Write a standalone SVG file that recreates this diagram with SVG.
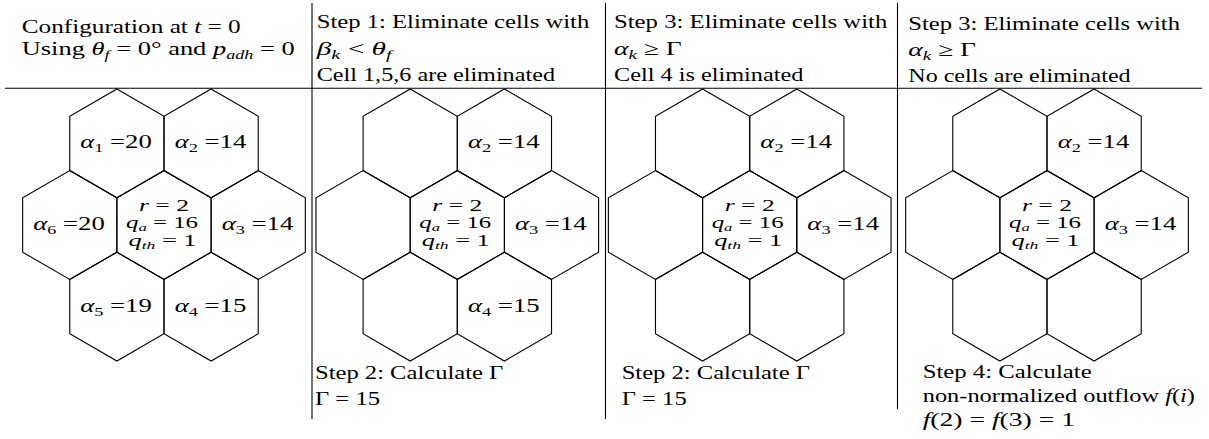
<svg xmlns="http://www.w3.org/2000/svg" width="1209" height="439" viewBox="0 0 1209 439" font-family="'Liberation Serif', serif">
<style>
.t{font-family:"Liberation Serif","DejaVu Serif",serif;font-size:19px;fill:#000}
.m{font-size:16.5px}
.i{font-style:italic}
.s{font-size:13px}
.ss{font-size:11px}
.hex{fill:none;stroke:#000;stroke-width:1.1}
.rule{stroke:#000;stroke-width:1.1;fill:none}
.c{text-anchor:middle}
</style>
<defs>
<polygon id="hex" class="hex" points="0,-54.4 47.11,-27.2 47.11,27.2 0,54.4 -47.11,27.2 -47.11,-27.2"/>
</defs>
<g id="rules">
<line class="rule" x1="5" y1="88.3" x2="1202" y2="88.3"/>
<line class="rule" x1="312" y1="3" x2="312" y2="419"/>
<line class="rule" x1="605.5" y1="3" x2="605.5" y2="419"/>
<line class="rule" x1="897.5" y1="3" x2="897.5" y2="409"/>
</g>
<g id="headers">
<text class="t" x="21.7" y="33" textLength="219" lengthAdjust="spacingAndGlyphs">Configuration at <tspan class="i">t</tspan> = 0</text>
<text class="t" x="21.7" y="54.5" textLength="273" lengthAdjust="spacingAndGlyphs">Using <tspan class="i">θ</tspan><tspan class="i s" dy="4">f</tspan><tspan dy="-4"> = 0° and </tspan><tspan class="i">p</tspan><tspan class="i s" dy="4">adh</tspan><tspan dy="-4"> = 0</tspan></text>
<text class="t" x="316.7" y="28" textLength="272.6" lengthAdjust="spacingAndGlyphs">Step 1: Eliminate cells with</text>
<text class="t" x="316.7" y="55" textLength="75" lengthAdjust="spacingAndGlyphs"><tspan class="i">β</tspan><tspan class="i s" dy="4">k</tspan><tspan dy="-4"> &lt; </tspan><tspan class="i">θ</tspan><tspan class="i s" dy="4">f</tspan></text>
<text class="t" x="316.7" y="81" textLength="238.3" lengthAdjust="spacingAndGlyphs">Cell 1,5,6 are eliminated</text>
<text class="t" x="614" y="28" textLength="273.3" lengthAdjust="spacingAndGlyphs">Step 3: Eliminate cells with</text>
<text class="t" x="614" y="55" textLength="67.7" lengthAdjust="spacingAndGlyphs"><tspan class="i">α</tspan><tspan class="i s" dy="4">k</tspan><tspan dy="-4"> ≥ Γ</tspan></text>
<text class="t" x="614" y="81" textLength="189.3" lengthAdjust="spacingAndGlyphs">Cell 4 is eliminated</text>
<text class="t" x="908.3" y="30" textLength="271.7" lengthAdjust="spacingAndGlyphs">Step 3: Eliminate cells with</text>
<text class="t" x="908.3" y="56" textLength="67.7" lengthAdjust="spacingAndGlyphs"><tspan class="i">α</tspan><tspan class="i s" dy="4">k</tspan><tspan dy="-4"> ≥ Γ</tspan></text>
<text class="t" x="908.3" y="81.5" textLength="222.3" lengthAdjust="spacingAndGlyphs">No cells are eliminated</text>
</g>
<g id="footers">
<text class="t" x="315" y="379" textLength="188.3" lengthAdjust="spacingAndGlyphs">Step 2: Calculate Γ</text>
<text class="t" x="315" y="405" textLength="65" lengthAdjust="spacingAndGlyphs">Γ = 15</text>
<text class="t" x="621.7" y="379" textLength="188.3" lengthAdjust="spacingAndGlyphs">Step 2: Calculate Γ</text>
<text class="t" x="621.7" y="405" textLength="65" lengthAdjust="spacingAndGlyphs">Γ = 15</text>
<text class="t" x="922.7" y="378" textLength="169" lengthAdjust="spacingAndGlyphs">Step 4: Calculate</text>
<text class="t" x="922.7" y="401.7" textLength="272.3" lengthAdjust="spacingAndGlyphs">non-normalized outflow <tspan class="i">f</tspan>(<tspan class="i">i</tspan>)</text>
<text class="t" x="922.7" y="425.7" textLength="152.3" lengthAdjust="spacingAndGlyphs"><tspan class="i">f</tspan>(2) = <tspan class="i">f</tspan>(3) = 1</text>
</g>
<!-- Panel 1 -->
<g id="p1-center"><use href="#hex" x="164" y="225"/>
<text class="t m c" x="164" y="210.5" textLength="50" lengthAdjust="spacingAndGlyphs"><tspan class="i">r</tspan> = 2</text>
<text class="t m c" x="162" y="228" textLength="72" lengthAdjust="spacingAndGlyphs"><tspan class="i">q</tspan><tspan class="i ss" dy="3">a</tspan><tspan dy="-3"> = 16</tspan></text>
<text class="t m c" x="162.5" y="245.5" textLength="68" lengthAdjust="spacingAndGlyphs"><tspan class="i">q</tspan><tspan class="i ss" dy="3">th</tspan><tspan dy="-3"> = 1</tspan></text></g>
<g id="p1-cell1"><use href="#hex" x="116.89" y="143.4"/><text class="t c" x="116" y="148.4" textLength="71.7" lengthAdjust="spacingAndGlyphs"><tspan class="i">α</tspan><tspan class="s" dy="4">1</tspan><tspan dy="-4"> =20</tspan></text></g>
<g id="p1-cell2"><use href="#hex" x="211.11" y="143.4"/><text class="t c" x="210.5" y="148.4" textLength="71.7" lengthAdjust="spacingAndGlyphs"><tspan class="i">α</tspan><tspan class="s" dy="4">2</tspan><tspan dy="-4"> =14</tspan></text></g>
<g id="p1-cell3"><use href="#hex" x="258.22" y="225"/><text class="t c" x="257.5" y="230" textLength="71.7" lengthAdjust="spacingAndGlyphs"><tspan class="i">α</tspan><tspan class="s" dy="4">3</tspan><tspan dy="-4"> =14</tspan></text></g>
<g id="p1-cell4"><use href="#hex" x="211.11" y="306.6"/><text class="t c" x="210.5" y="311.6" textLength="71.7" lengthAdjust="spacingAndGlyphs"><tspan class="i">α</tspan><tspan class="s" dy="4">4</tspan><tspan dy="-4"> =15</tspan></text></g>
<g id="p1-cell5"><use href="#hex" x="116.89" y="306.6"/><text class="t c" x="116" y="311.6" textLength="71.7" lengthAdjust="spacingAndGlyphs"><tspan class="i">α</tspan><tspan class="s" dy="4">5</tspan><tspan dy="-4"> =19</tspan></text></g>
<g id="p1-cell6"><use href="#hex" x="69.78" y="225"/><text class="t c" x="69" y="230" textLength="71.7" lengthAdjust="spacingAndGlyphs"><tspan class="i">α</tspan><tspan class="s" dy="4">6</tspan><tspan dy="-4"> =20</tspan></text></g>
<!-- Panel 2 -->
<g id="p2-center"><use href="#hex" x="457.3" y="225"/>
<text class="t m c" x="457.3" y="210.5" textLength="50" lengthAdjust="spacingAndGlyphs"><tspan class="i">r</tspan> = 2</text>
<text class="t m c" x="455.3" y="228" textLength="72" lengthAdjust="spacingAndGlyphs"><tspan class="i">q</tspan><tspan class="i ss" dy="3">a</tspan><tspan dy="-3"> = 16</tspan></text>
<text class="t m c" x="455.8" y="245.5" textLength="68" lengthAdjust="spacingAndGlyphs"><tspan class="i">q</tspan><tspan class="i ss" dy="3">th</tspan><tspan dy="-3"> = 1</tspan></text></g>
<g id="p2-cell1"><use href="#hex" x="410.19" y="143.4"/></g>
<g id="p2-cell2"><use href="#hex" x="504.41" y="143.4"/><text class="t c" x="503.8" y="148.4" textLength="71.7" lengthAdjust="spacingAndGlyphs"><tspan class="i">α</tspan><tspan class="s" dy="4">2</tspan><tspan dy="-4"> =14</tspan></text></g>
<g id="p2-cell3"><use href="#hex" x="551.52" y="225"/><text class="t c" x="550.8" y="230" textLength="71.7" lengthAdjust="spacingAndGlyphs"><tspan class="i">α</tspan><tspan class="s" dy="4">3</tspan><tspan dy="-4"> =14</tspan></text></g>
<g id="p2-cell4"><use href="#hex" x="504.41" y="306.6"/><text class="t c" x="503.8" y="311.6" textLength="71.7" lengthAdjust="spacingAndGlyphs"><tspan class="i">α</tspan><tspan class="s" dy="4">4</tspan><tspan dy="-4"> =15</tspan></text></g>
<g id="p2-cell5"><use href="#hex" x="410.19" y="306.6"/></g>
<g id="p2-cell6"><use href="#hex" x="363.08" y="225"/></g>
<!-- Panel 3 -->
<g id="p3-center"><use href="#hex" x="749.7" y="225"/>
<text class="t m c" x="749.7" y="210.5" textLength="50" lengthAdjust="spacingAndGlyphs"><tspan class="i">r</tspan> = 2</text>
<text class="t m c" x="747.7" y="228" textLength="72" lengthAdjust="spacingAndGlyphs"><tspan class="i">q</tspan><tspan class="i ss" dy="3">a</tspan><tspan dy="-3"> = 16</tspan></text>
<text class="t m c" x="748.2" y="245.5" textLength="68" lengthAdjust="spacingAndGlyphs"><tspan class="i">q</tspan><tspan class="i ss" dy="3">th</tspan><tspan dy="-3"> = 1</tspan></text></g>
<g id="p3-cell1"><use href="#hex" x="702.59" y="143.4"/></g>
<g id="p3-cell2"><use href="#hex" x="796.81" y="143.4"/><text class="t c" x="796.2" y="148.4" textLength="71.7" lengthAdjust="spacingAndGlyphs"><tspan class="i">α</tspan><tspan class="s" dy="4">2</tspan><tspan dy="-4"> =14</tspan></text></g>
<g id="p3-cell3"><use href="#hex" x="843.92" y="225"/><text class="t c" x="843.2" y="230" textLength="71.7" lengthAdjust="spacingAndGlyphs"><tspan class="i">α</tspan><tspan class="s" dy="4">3</tspan><tspan dy="-4"> =14</tspan></text></g>
<g id="p3-cell4"><use href="#hex" x="796.81" y="306.6"/></g>
<g id="p3-cell5"><use href="#hex" x="702.59" y="306.6"/></g>
<g id="p3-cell6"><use href="#hex" x="655.48" y="225"/></g>
<!-- Panel 4 -->
<g id="p4-center"><use href="#hex" x="1047" y="225"/>
<text class="t m c" x="1047" y="210.5" textLength="50" lengthAdjust="spacingAndGlyphs"><tspan class="i">r</tspan> = 2</text>
<text class="t m c" x="1045" y="228" textLength="72" lengthAdjust="spacingAndGlyphs"><tspan class="i">q</tspan><tspan class="i ss" dy="3">a</tspan><tspan dy="-3"> = 16</tspan></text>
<text class="t m c" x="1045.5" y="245.5" textLength="68" lengthAdjust="spacingAndGlyphs"><tspan class="i">q</tspan><tspan class="i ss" dy="3">th</tspan><tspan dy="-3"> = 1</tspan></text></g>
<g id="p4-cell1"><use href="#hex" x="999.89" y="143.4"/></g>
<g id="p4-cell2"><use href="#hex" x="1094.11" y="143.4"/><text class="t c" x="1093.5" y="148.4" textLength="71.7" lengthAdjust="spacingAndGlyphs"><tspan class="i">α</tspan><tspan class="s" dy="4">2</tspan><tspan dy="-4"> =14</tspan></text></g>
<g id="p4-cell3"><use href="#hex" x="1141.22" y="225"/><text class="t c" x="1140.5" y="230" textLength="71.7" lengthAdjust="spacingAndGlyphs"><tspan class="i">α</tspan><tspan class="s" dy="4">3</tspan><tspan dy="-4"> =14</tspan></text></g>
<g id="p4-cell4"><use href="#hex" x="1094.11" y="306.6"/></g>
<g id="p4-cell5"><use href="#hex" x="999.89" y="306.6"/></g>
<g id="p4-cell6"><use href="#hex" x="952.78" y="225"/></g>
</svg>
